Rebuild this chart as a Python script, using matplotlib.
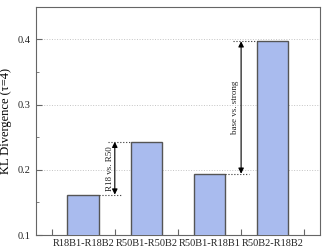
import matplotlib.pyplot as plt
from matplotlib.ticker import MultipleLocator

pairs = ['R18B1-R18B2', 'R50B1-R50B2', 'R50B1-R18B1', 'R50B2-R18B2']
kl = [0.162, 0.243, 0.194, 0.397]

plt.rcParams['font.family'] = ['Liberation Serif', 'DejaVu Serif']
plt.rcParams['text.color'] = '#222222'
plt.rcParams['xtick.labelcolor'] = '#222222'
plt.rcParams['ytick.labelcolor'] = '#222222'

fig = plt.figure(figsize=(3.32, 2.49), dpi=100)
ax = fig.add_axes([0.108, 0.056, 0.856, 0.917])

x = list(range(len(pairs)))
ax.bar(x, kl, width=0.5, color='#a9bbee', edgecolor='#555555', linewidth=1.0, zorder=3)

ax.set_xlim(-0.75, 3.75)
ax.set_ylim(0.1, 0.45)
ax.set_xticks([i + 0.5 for i in range(-1, 4)])
ax.set_xticklabels([])
ax.set_xticks(x, minor=True)
ax.set_xticklabels(pairs, minor=True, fontsize=7.5)
ax.tick_params(axis='x', which='minor', length=0, pad=3)
ax.tick_params(axis='x', which='major', direction='in', length=4, color='#666666')
ax.yaxis.set_major_locator(MultipleLocator(0.1))
ax.yaxis.set_minor_locator(MultipleLocator(0.05))
ax.tick_params(axis='y', which='both', direction='in', labelsize=7.5, color='#666666')
ax.tick_params(axis='y', which='major', length=4)
ax.tick_params(axis='y', which='minor', length=2)
ax.grid(axis='y', which='major', linestyle=':', color='#c4c4c4', linewidth=0.7, zorder=0)
ax.set_ylabel('KL Divergence (τ=4)', fontsize=9)
for s in ax.spines.values():
    s.set_color('#666666')

# annotation 1: R18 vs R50
ax.plot([0.25, 0.62], [kl[0], kl[0]], ':', color='#333333', lw=0.8, zorder=4)
ax.plot([0.4, 0.75], [kl[1], kl[1]], ':', color='#333333', lw=0.8, zorder=4)
ax.annotate('', xy=(0.5, kl[0]), xytext=(0.5, kl[1]),
            arrowprops=dict(arrowstyle='<|-|>', color='black', lw=0.8, mutation_scale=8,
                            shrinkA=0, shrinkB=0))
ax.text(0.42, (kl[0] + kl[1]) / 2, 'R18 vs. R50', rotation=90, ha='center', va='center', fontsize=6.5)

# annotation 2: base vs strong
ax.plot([2.25, 2.63], [kl[2], kl[2]], ':', color='#333333', lw=0.8, zorder=4)
ax.plot([2.37, 2.75], [kl[3], kl[3]], ':', color='#333333', lw=0.8, zorder=4)
ax.annotate('', xy=(2.5, kl[2]), xytext=(2.5, kl[3]),
            arrowprops=dict(arrowstyle='<|-|>', color='black', lw=0.8, mutation_scale=8,
                            shrinkA=0, shrinkB=0))
ax.text(2.41, (kl[2] + kl[3]) / 2, 'base vs. strong', rotation=90, ha='center', va='center', fontsize=6.5)

fig.savefig('out.png', dpi=100)
